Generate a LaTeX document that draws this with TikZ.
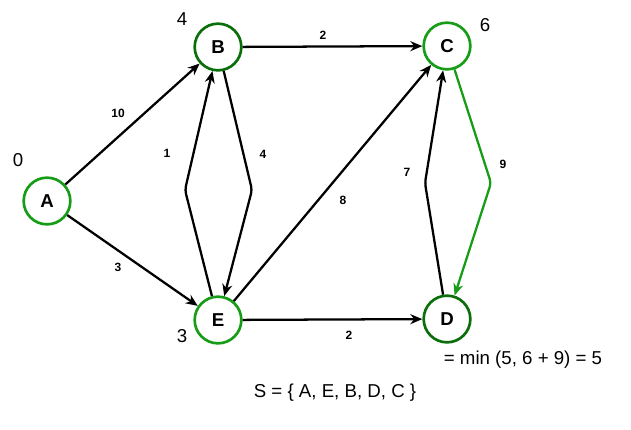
\documentclass[tikz,border=0pt]{standalone}
\usepackage{fontspec}
\setmainfont{Liberation Sans}
\usepackage{xcolor}
\usepackage{tikz}
\usetikzlibrary{arrows.meta}
\definecolor{vgreen}{HTML}{169C16}
\definecolor{vdark}{HTML}{0B6E0B}

\begin{document}
\begin{tikzpicture}[x=0.75pt,y=-0.75pt,
  vx/.style={circle,draw=vgreen,line width=2pt,minimum size=35pt,inner sep=0pt,font=\fontsize{14}{16}\selectfont\bfseries},
  wt/.style={font=\fontsize{9}{11}\selectfont\bfseries},
  dst/.style={font=\fontsize{14}{16}\selectfont},
  arr/.style={-{Stealth[length=9pt,width=7.5pt]},line width=1.7pt,rounded corners=3pt}]
\useasboundingbox (0,0) rectangle (631,429);
\node[vx] (A) at (47,201) {A};
\node[vx,draw=vdark] (B) at (218,47) {B};
\node[vx] (C) at (447,46) {C};
\node[vx] (E) at (218,320) {E};
\node[vx,draw=vdark] (D) at (447,319) {D};
% bends of the paired edges
\coordinate (eb) at (185,190);
\coordinate (be) at (252,190);
\coordinate (dc) at (425,183);
\coordinate (cd) at (491,183);
\foreach \x/\y in {A/B,A/E,B/C,E/C,E/D} \draw[arr] (\x) -- (\y);
\draw[arr] (E) -- (eb) -- (B);
\draw[arr] (B) -- (be) -- (E);
\draw[arr] (D) -- (dc) -- (C);
\draw[arr,draw=vgreen] (C) -- (cd) -- (D);
% weights
\node[wt] (wab) at (118,113) {10};
\node[wt] (wae) at (118,267) {3};
\node[wt] (wbc) at (323,35) {2};
\node[wt] (web) at (167,153) {1};
\node[wt] (wbe) at (263,154) {4};
\node[wt] (wec) at (343,200) {8};
\node[wt] (wed) at (349,335) {2};
\node[wt] (wdc) at (407,172) {7};
\node[wt] (wcd) at (503,164) {9};
% distances
\node[dst] (da) at (18,160) {0};
\node[dst] (db) at (182,19) {4};
\node[dst] (dc6) at (485,25) {6};
\node[dst] (de) at (182,336) {3};
\node[font=\fontsize{14}{16}\selectfont] (upd) at (523,360) {= min (5, 6 + 9) = 5};
\node[font=\fontsize{14}{16}\selectfont] (set) at (335,393) {S = \{ A, E, B, D, C \}};
\end{tikzpicture}
\end{document}
